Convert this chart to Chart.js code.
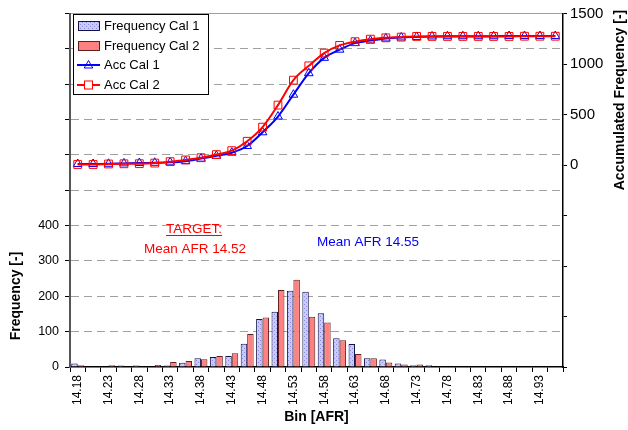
<!DOCTYPE html>
<html>
<head>
<meta charset="utf-8">
<script src="https://cdn.jsdelivr.net/npm/chart.js@4.4.1/dist/chart.umd.min.js"></script>
<style>
body { margin: 0; background: #fff; }
#wrap { width: 628px; height: 430px; }
</style>
</head>
<body>
<div id="wrap"><canvas id="afrChart"></canvas></div>
<script>
// bins [AFR], one every 0.025, label shown on every other one
const bins = ['14.18', '14.205', '14.23', '14.255', '14.28', '14.305', '14.33', '14.355',
    '14.38', '14.405', '14.43', '14.455', '14.48', '14.505', '14.53', '14.555',
    '14.58', '14.605', '14.63', '14.655', '14.68', '14.705', '14.73', '14.755',
    '14.78', '14.805', '14.83', '14.855', '14.88', '14.905', '14.93', '14.955'];

const freqCal1 = [10, 0, 2, 4, 4, 2, 4, 12, 25, 28, 31, 66, 136, 156, 216, 213,
    152, 81, 65, 25, 21, 10, 5, 5, 2, 0, 0, 0, 2, 0, 0, 0];
const freqCal2 = [5, 0, 5, 2, 1, 6, 14, 17, 22, 31, 39, 93, 140, 218, 247, 142,
    126, 76, 37, 25, 13, 7, 7, 0, 0, 0, 0, 0, 0, 2, 0, 0];

const accCal1 = [10, 10, 12, 16, 20, 22, 26, 38, 63, 91, 122, 188, 324, 480, 696, 909,
    1061, 1142, 1207, 1232, 1253, 1263, 1268, 1273, 1275, 1275, 1275, 1275, 1277, 1277, 1277, 1277];
const accCal2 = [5, 5, 10, 12, 13, 19, 33, 50, 72, 103, 142, 235, 375, 593, 840, 982,
    1108, 1184, 1221, 1246, 1259, 1266, 1273, 1273, 1273, 1273, 1273, 1273, 1273, 1275, 1275, 1275];

const freqTicks = [0, 100, 200, 300, 400];
const accTicks = [0, 500, 1000, 1500];

Chart.defaults.font.family = "'Liberation Sans', Arial, sans-serif";
Chart.defaults.color = '#000';

// dotted light blue fill like the excel pattern
function dotFill() {
    const c = document.createElement('canvas');
    c.width = 4;
    c.height = 4;
    const g = c.getContext('2d');
    g.fillStyle = '#cacaf7';
    g.fillRect(0, 0, 4, 4);
    g.fillStyle = '#8a8ae0';
    g.fillRect(0, 0, 1, 1);
    g.fillRect(2, 2, 1, 1);
    return g.createPattern(c, 'repeat');
}
const blueFill = dotFill();

// legend box, notes and the y titles
const extras = {
    id: 'extras',
    afterDraw(chart) {
        const ctx = chart.ctx;
        ctx.save();

        // legend
        ctx.fillStyle = '#fff';
        ctx.fillRect(73, 14, 135, 80);
        ctx.strokeStyle = '#000';
        ctx.lineWidth = 1;
        ctx.strokeRect(73.5, 14.5, 135, 80);

        ctx.fillStyle = blueFill;
        ctx.fillRect(78, 21, 21, 9);
        ctx.strokeStyle = '#14144a';
        ctx.strokeRect(78.5, 21.5, 21, 9);
        ctx.fillStyle = '#ff8080';
        ctx.fillRect(78, 41, 21, 9);
        ctx.strokeStyle = '#602020';
        ctx.strokeRect(78.5, 41.5, 21, 9);

        ctx.lineWidth = 2;
        ctx.strokeStyle = '#0000ff';
        ctx.beginPath();
        ctx.moveTo(77, 65);
        ctx.lineTo(100, 65);
        ctx.stroke();
        ctx.lineWidth = 1;
        ctx.beginPath();
        ctx.moveTo(88.5, 60.5);
        ctx.lineTo(92.8, 68);
        ctx.lineTo(84.2, 68);
        ctx.closePath();
        ctx.stroke();

        ctx.lineWidth = 2;
        ctx.strokeStyle = '#ff0000';
        ctx.beginPath();
        ctx.moveTo(77, 85);
        ctx.lineTo(100, 85);
        ctx.stroke();
        ctx.lineWidth = 1;
        ctx.fillStyle = '#fff';
        ctx.fillRect(84.5, 81, 8, 8);
        ctx.strokeRect(84.5, 81, 8, 8);

        ctx.fillStyle = '#000';
        ctx.font = "13px 'Liberation Sans', Arial, sans-serif";
        ctx.textAlign = 'left';
        ctx.textBaseline = 'middle';
        ctx.fillText('Frequency Cal 1', 104, 26);
        ctx.fillText('Frequency Cal 2', 104, 46);
        ctx.fillText('Acc Cal 1', 104, 65);
        ctx.fillText('Acc Cal 2', 104, 85);

        // notes
        ctx.font = "13.5px 'Liberation Sans', Arial, sans-serif";
        ctx.textAlign = 'center';
        ctx.textBaseline = 'alphabetic';
        ctx.fillStyle = '#ff0000';
        ctx.fillText('TARGET:', 194, 233);
        const w = ctx.measureText('TARGET:').width;
        ctx.strokeStyle = '#ff0000';
        ctx.beginPath();
        ctx.moveTo(194 - w / 2, 235.5);
        ctx.lineTo(194 + w / 2, 235.5);
        ctx.stroke();
        ctx.fillText('Mean AFR 14.52', 195, 253);
        ctx.fillStyle = '#0000ff';
        ctx.fillText('Mean AFR 14.55', 368, 246);

        // y titles, both read bottom to top
        ctx.fillStyle = '#000';
        ctx.font = "bold 14px 'Liberation Sans', Arial, sans-serif";
        ctx.textBaseline = 'middle';
        ctx.translate(16, 296);
        ctx.rotate(-Math.PI / 2);
        ctx.fillText('Frequency [-]', 0, 0);
        ctx.setTransform(1, 0, 0, 1, 0, 0);
        ctx.translate(620, 100);
        ctx.rotate(-Math.PI / 2);
        ctx.fillText('Accumulated Frequency [-]', 0, 0);

        ctx.restore();
    }
};

const config = {
    type: 'bar',
    data: {
        labels: bins,
        datasets: [{
            type: 'line',
            label: 'Acc Cal 2',
            data: accCal2,
            yAxisID: 'y2',
            borderColor: '#ff0000',
            borderWidth: 2,
            cubicInterpolationMode: 'monotone',
            pointStyle: 'rect',
            pointRadius: 5.5,
            pointBorderWidth: 1,
            pointBorderColor: '#ff0000',
            pointBackgroundColor: 'rgba(255,255,255,0)',
            order: 0
        }, {
            type: 'line',
            label: 'Acc Cal 1',
            data: accCal1,
            yAxisID: 'y2',
            borderColor: '#0000ff',
            borderWidth: 2,
            cubicInterpolationMode: 'monotone',
            pointStyle: 'triangle',
            pointRadius: 5,
            pointBorderWidth: 1,
            pointBorderColor: '#0000ff',
            pointBackgroundColor: 'rgba(255,255,255,0)',
            order: 1
        }, {
            label: 'Frequency Cal 1',
            data: freqCal1,
            yAxisID: 'y',
            backgroundColor: blueFill,
            borderColor: '#14144a',
            borderWidth: 1,
            categoryPercentage: 0.84,
            barPercentage: 1,
            order: 2
        }, {
            label: 'Frequency Cal 2',
            data: freqCal2,
            yAxisID: 'y',
            backgroundColor: '#ff8080',
            borderColor: '#602020',
            borderWidth: 1,
            categoryPercentage: 0.84,
            barPercentage: 1,
            order: 2
        }]
    },
    options: {
        responsive: true,
        maintainAspectRatio: false,
        animation: false,
        layout: { padding: { top: 9, left: 0, right: 0, bottom: 0 } },
        plugins: {
            legend: { display: false },
            tooltip: { enabled: false }
        },
        scales: {
            x: {
                grid: {
                    drawOnChartArea: false,
                    offset: true,
                    tickLength: 5,
                    tickColor: '#000'
                },
                border: { color: '#000', width: 1.5 },
                ticks: {
                    autoSkip: false,
                    minRotation: 90,
                    maxRotation: 90,
                    padding: 3,
                    font: { size: 12 },
                    callback: (v, i) => i % 2 === 0 ? bins[i] : ''
                },
                title: {
                    display: true,
                    text: 'Bin [AFR]',
                    font: { size: 14, weight: 'bold' },
                    padding: { top: 0, bottom: 4 }
                },
                afterFit: s => { s.height = 63; }
            },
            y: {
                position: 'left',
                min: 0,
                max: 1000,
                grid: {
                    color: ctx => ctx.tick && ctx.tick.value === 0 ? 'rgba(0,0,0,0)' : '#a0a0a0',
                    tickColor: '#000',
                    tickLength: 5,
                    tickBorderDash: []
                },
                border: {
                    color: '#555',
                    width: 2,
                    dash: ctx => (ctx.tick && ctx.tick.value !== 1000) ? [8, 5] : []
                },
                ticks: {
                    stepSize: 100,
                    padding: 6,
                    font: { size: 12.5 },
                    callback: v => freqTicks.includes(v) ? v : ''
                },
                afterFit: s => { s.width = 70; }
            },
            y2: {
                position: 'right',
                min: -2000,
                max: 1500,
                grid: {
                    drawOnChartArea: false,
                    tickColor: '#000',
                    tickLength: 4
                },
                border: { color: '#000', width: 1.5 },
                ticks: {
                    stepSize: 500,
                    padding: 3,
                    font: { size: 15 },
                    callback: v => accTicks.includes(v) ? v : ''
                },
                afterFit: s => { s.width = 65; }
            }
        }
    },
    plugins: [extras]
};

new Chart(document.getElementById('afrChart').getContext('2d'), config);
</script>
</body>
</html>
